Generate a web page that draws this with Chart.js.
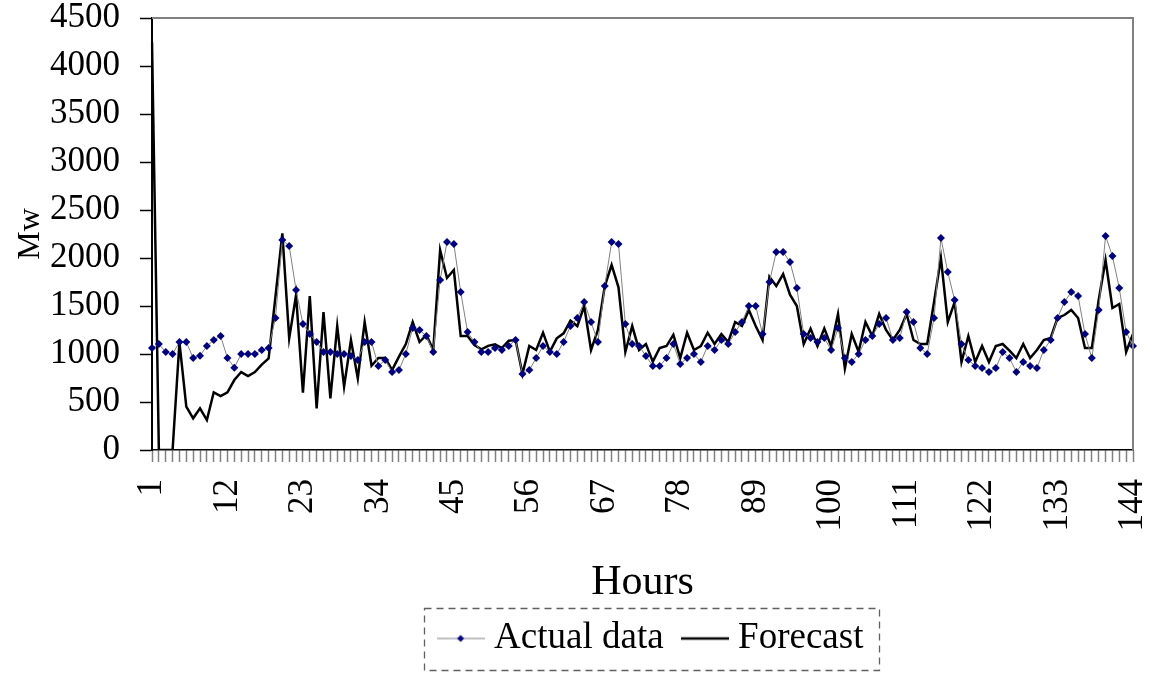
<!DOCTYPE html>
<html>
<head>
<meta charset="utf-8">
<script src="https://cdn.jsdelivr.net/npm/chart.js@4/dist/chart.umd.min.js"></script>
<style>
  html, body { margin: 0; padding: 0; background: #fff; }
  #wrap { width: 1157px; height: 673px; }
</style>
</head>
<body>
<div id="wrap"><canvas id="c" width="1157" height="673"></canvas></div>
<script>
// ---- Data ----
const hours = Array.from({length: 144}, (_, i) => String(i + 1));
const labelledHours = ['1','12','23','34','45','56','67','78','89','100','111','122','133','144'];
const yTicks = [0, 500, 1000, 1500, 2000, 2500, 3000, 3500, 4000, 4500];

const actualData = [
  1062,1104,1021,1000,1125,1125,958,983,1083,1146,
  1187,958,858,1000,1000,1000,1042,1062,1375,2187,
  2125,1667,1312,1208,1125,1021,1021,1000,1000,979,
  937,1125,1125,875,937,812,833,1000,1271,1250,
  1187,1021,1771,2166,2146,1646,1229,1125,1021,1021,
  1062,1042,1083,1146,792,833,958,1083,1021,1000,
  1125,1291,1375,1541,1333,1125,1708,2166,2146,1312,
  1104,1083,979,875,875,958,1104,896,958,1000,
  917,1083,1042,1146,1104,1229,1333,1500,1500,1208,
  1750,2062,2062,1958,1687,1208,1167,1125,1167,1042,
  1271,958,917,1000,1146,1187,1312,1375,1146,1167,
  1437,1333,1062,1000,1375,2208,1854,1562,1104,937,
  875,854,812,854,1021,958,812,917,875,854,
  1042,1146,1375,1541,1646,1604,1208,958,1458,2229,
  2021,1687,1229,1083
];

const forecastData = [
  4250,0,0,0,1120,451,330,434,312,601,
  562,601,729,812,771,812,889,955,1600,2257,
  1163,1614,597,1604,434,1437,538,1291,660,1146,
  746,1333,878,958,958,833,972,1104,1333,1125,
  1198,1042,2083,1792,1875,1187,1187,1094,1049,1085,
  1100,1062,1139,1146,792,1083,1042,1222,1024,1163,
  1215,1347,1291,1500,1042,1250,1708,1927,1694,1021,
  1291,1042,1104,920,1062,1083,1201,958,1222,1042,
  1083,1222,1104,1208,1125,1333,1291,1458,1291,1146,
  1805,1708,1833,1618,1500,1104,1264,1083,1267,1080,
  1417,850,1208,1024,1333,1187,1417,1250,1146,1250,
  1417,1146,1104,1104,1541,2000,1333,1541,917,1187,
  917,1083,917,1083,1104,1035,958,1104,958,1042,
  1146,1167,1375,1406,1458,1375,1062,1062,1562,1979,
  1479,1521,1021,1208
];

// ---- Styles ----
const FONT = "'Liberation Serif', 'DejaVu Serif', serif";
const ACTUAL_LINE = '#808080';
const ACTUAL_MARK = '#000080';
const FORECAST_LINE = '#000000';

Chart.defaults.font.family = FONT;
Chart.defaults.color = '#000';

// legend symbol images
function makeSymbol(kind) {
  const c = document.createElement('canvas');
  c.width = 48; c.height = 12;
  const g = c.getContext('2d');
  g.beginPath();
  g.moveTo(0, 6); g.lineTo(48, 6);
  if (kind === 'actual') {
    g.strokeStyle = ACTUAL_LINE; g.lineWidth = 1; g.stroke();
    g.beginPath();
    g.moveTo(24, 2.5); g.lineTo(27.5, 6); g.lineTo(24, 9.5); g.lineTo(20.5, 6); g.closePath();
    g.fillStyle = ACTUAL_MARK; g.fill();
  } else {
    g.strokeStyle = FORECAST_LINE; g.lineWidth = 2.5; g.stroke();
  }
  return c;
}
const symActual = makeSymbol('actual');
const symForecast = makeSymbol('forecast');

const frameAndBorder = {
  id: 'frameAndBorder',
  afterLayout(chart) {
    const lg = chart.legend;
    if (lg) { lg.left += 12; lg.right += 12; }
  },
  afterDraw(chart) {
    const ctx = chart.ctx;
    const a = chart.chartArea;
    ctx.save();
    // plot area border (top & right)
    ctx.strokeStyle = '#808080';
    ctx.lineWidth = 2;
    ctx.beginPath();
    ctx.moveTo(a.left, a.top);
    ctx.lineTo(a.right, a.top);
    ctx.lineTo(a.right, a.bottom);
    ctx.stroke();
    // dashed legend frame
    const lg = chart.legend;
    if (lg && lg.lineWidths) {
      const pad = lg.options.labels.padding;
      const lw = lg.lineWidths[0];
      const cursorX = (lg.left + pad + lg.right - lw) / 2;
      const fs = lg.options.labels.font.size;
      const cy = lg.top + pad + fs / 2;
      const x0 = cursorX - 9 - 13;
      const x1 = cursorX + lw - pad + 15;
      ctx.setLineDash([7, 5]);
      ctx.strokeStyle = '#606060';
      ctx.lineWidth = 1.3;
      ctx.strokeRect(Math.round(x0) + 0.5, Math.round(cy - 31) + 0.5, Math.round(x1 - x0), 62);
    }
    ctx.restore();
  }
};

new Chart(document.getElementById('c'), {
  type: 'line',
  data: {
    labels: hours,
    datasets: [
      {
        label: 'Actual data',
        data: actualData,
        borderColor: ACTUAL_LINE,
        borderWidth: 1,
        pointStyle: 'rectRot',
        pointRadius: 4,
        pointBackgroundColor: ACTUAL_MARK,
        pointBorderColor: ACTUAL_MARK,
        pointBorderWidth: 0,
        tension: 0
      },
      {
        label: 'Forecast',
        data: forecastData,
        borderColor: FORECAST_LINE,
        borderWidth: 2.5,
        pointRadius: 0,
        tension: 0
      }
    ]
  },
  options: {
    responsive: false,
    animation: false,
    layout: { padding: { top: 18, right: 24, bottom: 6, left: 0 } },
    plugins: {
      tooltip: { enabled: false },
      legend: {
        position: 'bottom',
        fullSize: false,
        labels: {
          usePointStyle: true,
          pointStyleWidth: 30,
          padding: 26,
          color: '#000',
          font: { size: 37, family: FONT },
          generateLabels: () => [
            { text: 'Actual data', pointStyle: symActual, fontColor: '#000', hidden: false, datasetIndex: 0, lineWidth: 0 },
            { text: 'Forecast', pointStyle: symForecast, fontColor: '#000', hidden: false, datasetIndex: 1, lineWidth: 0 }
          ]
        }
      }
    },
    scales: {
      x: {
        type: 'category',
        offset: false,
        afterFit: (s) => { s.height = 144; s.paddingLeft = 0; s.paddingRight = 0; },
        grid: {
          display: true,
          drawOnChartArea: false,
          drawTicks: true,
          tickLength: 12,
          tickColor: '#808080',
          tickWidth: 1.5
        },
        border: { display: true, color: '#000', width: 1.5 },
        ticks: {
          autoSkip: false,
          maxRotation: 90,
          minRotation: 90,
          padding: 17,
          color: '#000',
          font: { size: 35, family: FONT },
          callback: function (v, i) {
            const l = hours[i];
            return labelledHours.includes(l) ? l : '';
          }
        },
        title: {
          display: true,
          text: 'Hours',
          color: '#000',
          font: { size: 42, family: FONT },
          padding: { top: 0, bottom: -14 }
        }
      },
      y: {
        min: 0,
        max: 4500,
        afterFit: (s) => { s.width = 152; s.paddingTop = 0; s.paddingBottom = 0; },
        afterBuildTicks: (s) => { s.ticks = yTicks.map(v => ({ value: v })); },
        grid: {
          display: true,
          drawOnChartArea: false,
          drawTicks: true,
          tickLength: 12,
          tickColor: '#000',
          tickWidth: 1.5
        },
        border: { display: true, color: '#000', width: 2 },
        ticks: {
          padding: 20,
          color: '#000',
          font: { size: 35, family: FONT, lineHeight: 1 },
          callback: (v) => String(v)
        },
        title: {
          display: true,
          text: 'Mw',
          color: '#000',
          font: { size: 32, family: FONT },
          padding: { top: 11, bottom: 0 }
        }
      }
    }
  },
  plugins: [frameAndBorder]
});
</script>
</body>
</html>
